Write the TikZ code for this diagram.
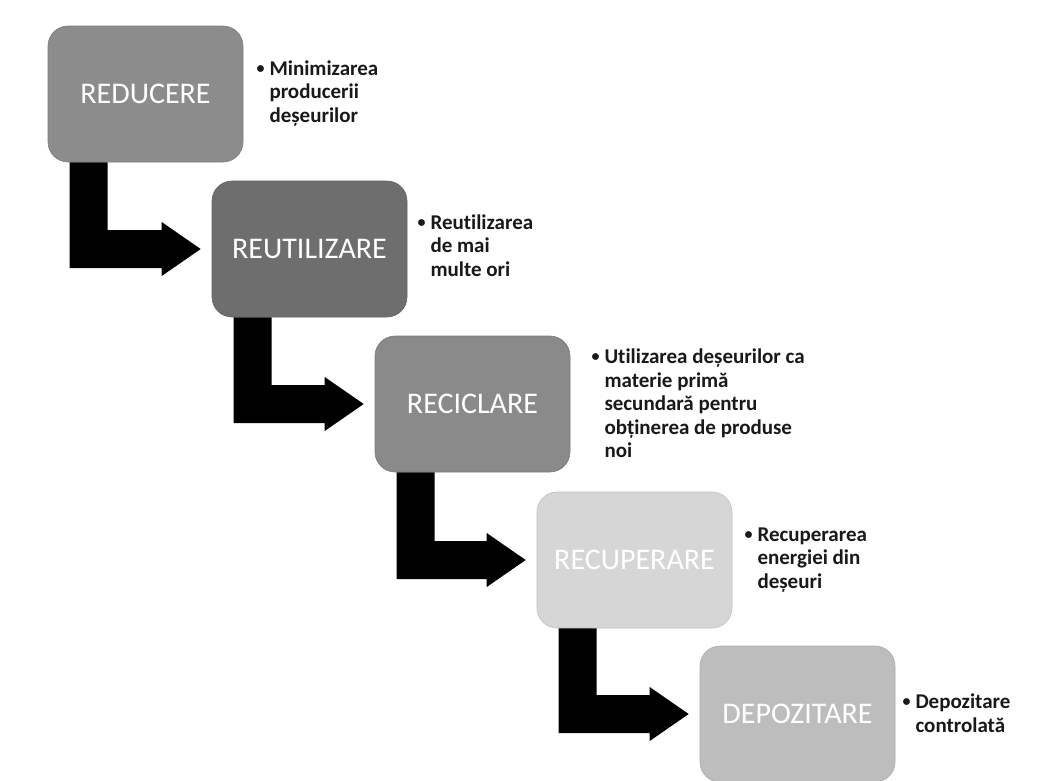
\documentclass[tikz,border=0pt]{standalone}
\usepackage{fontspec}
\setmainfont[Ligatures=NoCommon]{Carlito}
\usetikzlibrary{calc}

\definecolor{stageA}{gray}{0.55}
\definecolor{stageB}{gray}{0.43}
\definecolor{stageC}{gray}{0.54}
\definecolor{stageD}{gray}{0.84}
\definecolor{stageE}{gray}{0.74}
\definecolor{notetext}{gray}{0.1}

\tikzset{
  stage/.style={rectangle, rounded corners=20pt, minimum width=195pt,
    minimum height=136pt, inner sep=0pt, fill=#1, draw=#1!90!black,
    line width=0.6pt, text=white, font=\fontsize{30}{36}\selectfont},
  note/.style={anchor=west, inner sep=0pt, text=notetext,
    font=\fontsize{21}{23.5}\selectfont\bfseries},
  stepfill/.style={fill=black}
}

% bent step arrow: down from the bottom of #1, then right into #2
\newcommand\stepdown[2]{%
  \fill[stepfill] let \p1=(#1.south west), \p2=(#2.west) in
    (\x1+22pt,\y1) -- (\x1+60pt,\y1) -- (\x1+60pt,\y2+19pt)
    -- (\x2-50pt,\y2+19pt) -- (\x2-50pt,\y2+27pt) -- (\x2-11pt,\y2)
    -- (\x2-50pt,\y2-27pt) -- (\x2-50pt,\y2-19pt) -- (\x1+22pt,\y2-19pt)
    -- cycle;}

% small list bullet and a bulleted block with a hanging indent
\newcommand\dotmark{\raisebox{2pt}{\fontsize{16}{16}\selectfont •}}
\newcommand\bulleted[1]{\begin{tabular}{@{}p{13pt}@{}l@{}}#1\end{tabular}}

\begin{document}
\begin{tikzpicture}[x=1pt, y=-1pt]
  \useasboundingbox (0,0) rectangle (1058,780);
  \fill[white] (0,0) rectangle (1058,780);

  \node[stage=stageA] (b1) at (145.5,94)  {REDUCERE};
  \node[stage=stageB] (b2) at (309.5,249) {REUTILIZARE};
  \node[stage=stageC] (b3) at (472.5,404) {RECICLARE};
  \node[stage=stageD] (b4) at (634.5,560) {RECUPERARE};
  \node[stage=stageE] (b5) at (797.5,714) {DEPOZITARE};

  \stepdown{b1}{b2}
  \stepdown{b2}{b3}
  \stepdown{b3}{b4}
  \stepdown{b4}{b5}

  \node[note] (n1) at ($(b1.east)+(13,0)$)
    {\bulleted{\dotmark&Minimizarea\\&producerii\\&deșeurilor}};
  \node[note] (n2) at ($(b2.east)+(10,-1)$)
    {\bulleted{\dotmark&Reutilizarea\\&de mai\\&multe ori}};
  \node[note] (n3) at ($(b3.east)+(21,2)$)
    {\bulleted{\dotmark&Utilizarea deșeurilor ca\\&materie primă\\&secundară pentru\\&obținerea de produse\\&noi}};
  \node[note] (n4) at ($(b4.east)+(12,0)$)
    {\bulleted{\dotmark&Recuperarea\\&energiei din\\&deșeuri}};
  \node[note] (n5) at ($(b5.east)+(7,2)$)
    {\bulleted{\dotmark&Depozitare\\&controlată}};
\end{tikzpicture}
\end{document}
